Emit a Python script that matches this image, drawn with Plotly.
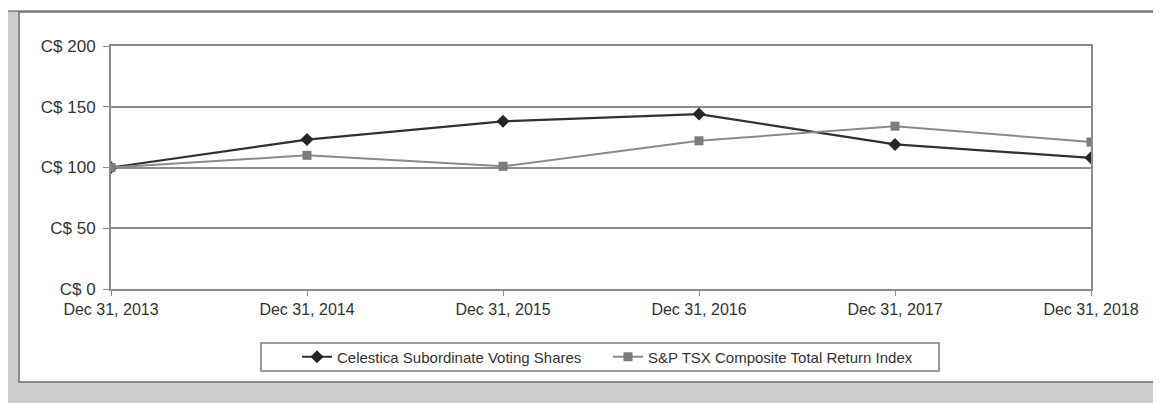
import plotly.graph_objects as go

# ---- data ----
dates = ["Dec 31, 2013", "Dec 31, 2014", "Dec 31, 2015", "Dec 31, 2016", "Dec 31, 2017", "Dec 31, 2018"]
celestica = [100, 123, 138, 144, 119, 108]
sptsx = [100, 110, 101, 122, 134, 121]
y_ticks = [0, 50, 100, 150, 200]
y_tick_labels = ["C$ 0", "C$ 50", "C$ 100", "C$ 150", "C$ 200"]
names = ["Celestica Subordinate Voting Shares", "S&P TSX Composite Total Return Index"]

# page body has an 8px margin; work in screen pixels and shift
OFF = 8
W, H = 1161 - OFF, 403 - OFF
ML, MR, MT, MB = 111 - OFF, 1161 - 1091, 46 - OFF, 403 - 289
PW, PH = W - ML - MR, H - MT - MB


def px(x):
    return (x - OFF - ML) / PW


def py(y):
    return (H - MB - (y - OFF)) / PH


fig = go.Figure()
fig.add_trace(go.Scatter(
    x=dates, y=celestica, name=names[0], mode="lines+markers",
    line=dict(color="#303030", width=2.2),
    marker=dict(symbol="diamond", size=10, color="#262626"),
))
fig.add_trace(go.Scatter(
    x=dates, y=sptsx, name=names[1], mode="lines+markers",
    line=dict(color="#8a8a8a", width=2),
    marker=dict(symbol="square", size=9, color="#7c7c7c"),
))

font = "Liberation Sans, Arial, sans-serif"
fig.update_layout(
    width=W, height=H,
    margin=dict(l=ML, r=MR, t=MT, b=MB, pad=0),
    paper_bgcolor="white", plot_bgcolor="white",
    font=dict(family=font, color="#333333"),
    showlegend=True,
    legend=dict(
        orientation="h", x=px(608), xanchor="center", y=py(357), yanchor="middle",
        font=dict(size=15, family=font, color="#333333"),
        bgcolor="rgba(0,0,0,0)", borderwidth=0,
        itemwidth=30, entrywidth=266,
    ),
    xaxis=dict(
        type="category", range=[0, len(dates) - 1],
        showgrid=False, showline=True, mirror=True, linecolor="#8c8c8c", linewidth=2,
        ticks="outside", ticklen=5, tickcolor="#8c8c8c",
        tickfont=dict(size=16, family=font, color="#333333"),
        zeroline=False,
    ),
    yaxis=dict(
        range=[0, 200], tickvals=y_ticks, ticktext=y_tick_labels,
        showgrid=True, gridcolor="#8c8c8c", gridwidth=2,
        showline=True, mirror=True, linecolor="#8c8c8c", linewidth=2,
        ticks="outside", ticklen=6, tickcolor="#8c8c8c",
        tickfont=dict(size=17, family=font, color="#333333"),
        ticklabelstandoff=4,
        zeroline=False,
    ),
    shapes=[
        dict(type="rect", xref="paper", yref="paper", layer="below",
             x0=px(6), x1=px(1175), y0=py(11), y1=py(420),
             fillcolor="#cfcfcf", line=dict(color="#444444", width=1)),
        dict(type="rect", xref="paper", yref="paper", layer="below",
             x0=px(19), x1=px(1175), y0=py(12), y1=py(382),
             fillcolor="white", line=dict(color="#6e6e6e", width=1.5)),
        dict(type="rect", xref="paper", yref="paper", layer="below",
             x0=px(261), x1=px(939), y0=py(343), y1=py(371),
             fillcolor="white", line=dict(color="#7a7a7a", width=1.5)),
    ],
)

fig.write_html("out.html")
